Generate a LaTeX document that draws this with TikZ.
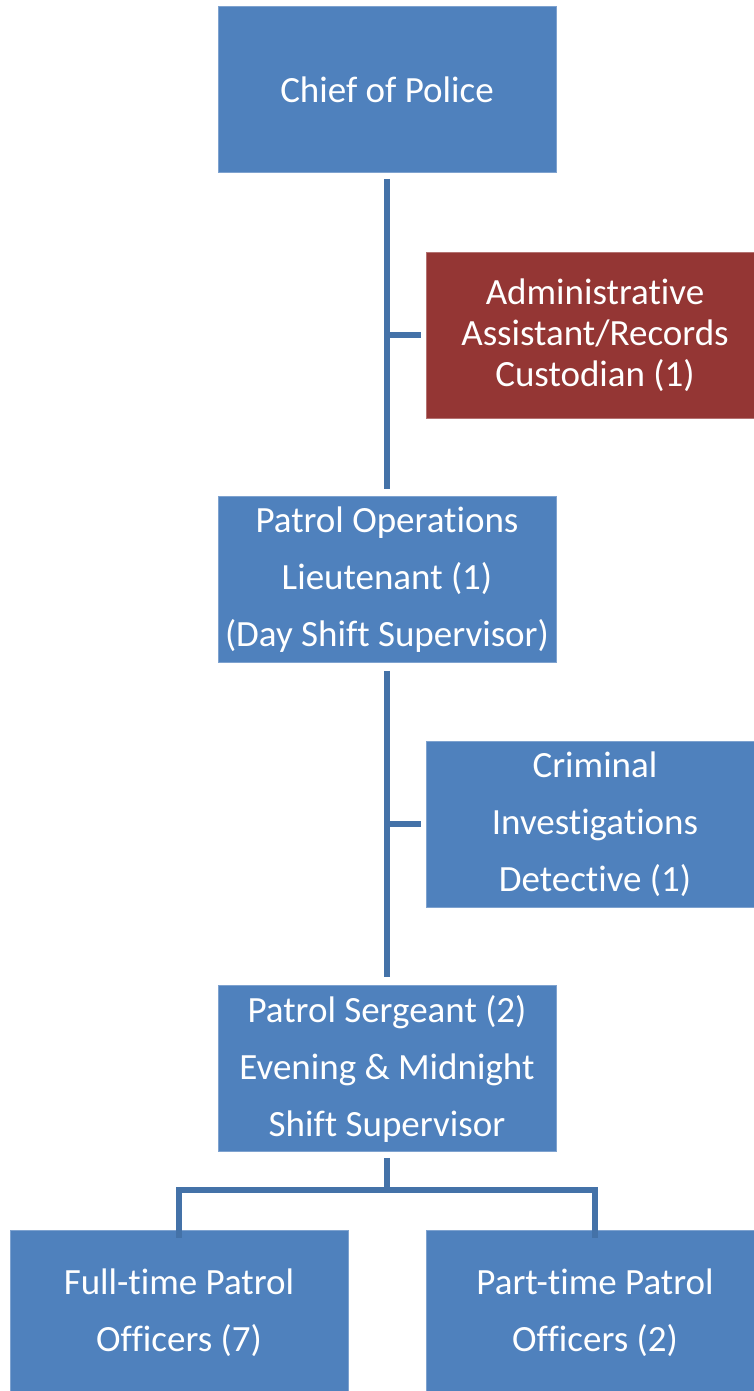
\documentclass[tikz,border=0pt]{standalone}
\usepackage{fontspec}
\setmainfont{Carlito}[Ligatures=NoCommon]
\usetikzlibrary{calc}
\definecolor{boxblue}{HTML}{4F81BD}
\definecolor{boxred}{HTML}{943634}
\definecolor{linkblue}{HTML}{4472A8}
\definecolor{edgeblue}{HTML}{7EA2CF}
\begin{document}
\begin{tikzpicture}[x=1pt,y=-1pt,
  orgbox/.style={fill=boxblue, draw=edgeblue, line width=0.8pt, minimum width=338pt, minimum height=166pt,
    inner sep=0pt, text=white, align=center, font=\fontsize{37}{57}\selectfont},
  redbox/.style={orgbox, fill=boxred, draw=boxred!70!white, font=\fontsize{37}{41}\selectfont},
  link/.style={draw=linkblue, line width=5.5pt}]
\useasboundingbox (0,0) rectangle (754,1391);
\node[orgbox] (chief) at (387,89.5) {Chief of Police};
\node[redbox] (admin) at (595,335) {Administrative\\Assistant/Records\\Custodian (1)};
\node[orgbox] (lt) at (387,579.5) {Patrol Operations\\Lieutenant (1)\\(Day Shift Supervisor)};
\node[orgbox] (det) at (595,824) {Criminal\\Investigations\\Detective (1)};
\node[orgbox] (sgt) at (387,1068.5) {Patrol Sergeant (2)\\Evening \& Midnight\\Shift Supervisor};
\node[orgbox] (ft) at (179,1313) {Full-time Patrol\\Officers (7)};
\node[orgbox] (pt) at (595,1313) {Part-time Patrol\\Officers (2)};
% trunk connectors
\draw[link, shorten <=6pt, shorten >=7pt] (chief.south) -- (lt.north);
\draw[link, shorten <=8pt, shorten >=8pt] (lt.south) -- (sgt.north);
\draw[link, shorten >=5pt] (chief.south |- admin.west) -- (admin.west);
\draw[link, shorten >=5pt] (lt.south |- det.west) -- (det.west);
% bottom fork
\coordinate (fork) at ($(sgt.south)+(0,38)$);
\draw[link, shorten <=6pt] (sgt.south) -- (fork);
\draw[link, line join=miter] ([yshift=-8pt]ft.north) -- (ft.north |- fork) -- (pt.north |- fork) -- ([yshift=-8pt]pt.north);
\end{tikzpicture}
\end{document}
